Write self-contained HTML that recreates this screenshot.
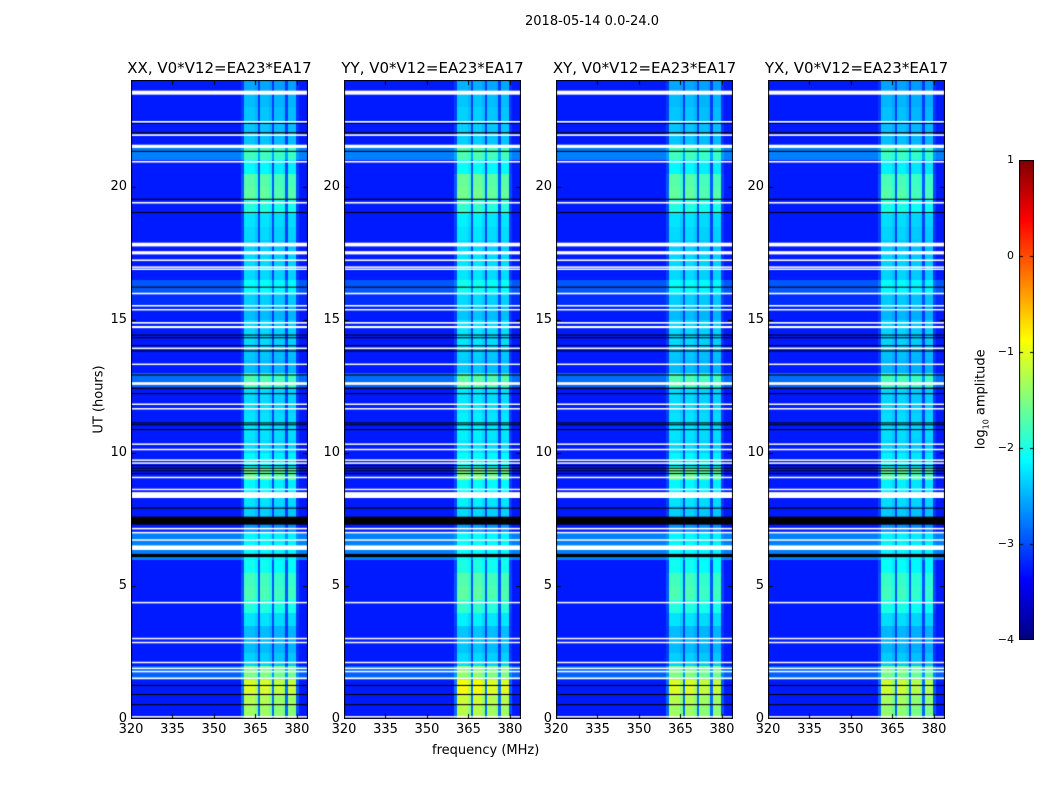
<!DOCTYPE html>
<html><head><meta charset="utf-8">
<style>
body{margin:0;background:#fff;}
#root{position:relative;width:1050px;height:800px;background:#fff;font-family:"DejaVu Sans","Liberation Sans",sans-serif;color:#000;overflow:hidden;}
.t{position:absolute;white-space:nowrap;}
canvas{position:absolute;}
</style></head>
<body>
<div id="root">
<div class="t" style="left:525px;top:14px;font-size:13px;">2018-05-14 0.0-24.0</div>
<div class="t" style="left:44px;top:392px;font-size:13px;width:110px;text-align:center;transform:rotate(-90deg);">UT (hours)</div>
<div class="t" style="left:432px;top:743px;font-size:13px;">frequency (MHz)</div>
<div class="t" style="left:922px;top:391px;font-size:13px;width:120px;text-align:center;transform:rotate(-90deg);">log<sub style="font-size:8px">10</sub> amplitude</div>
</div>
<script>
// ---- data ----
const panelTitles = ["XX, V0*V12=EA23*EA17","YY, V0*V12=EA23*EA17","XY, V0*V12=EA23*EA17","YX, V0*V12=EA23*EA17"];
const panelScale = [1.0, 1.06, 1.0, 0.96];
const freqStart = 320; // MHz, 1 MHz channels
const colShape = [0,0,0,0,0,0,0,0,0,0, 0,0,0,0,0,0,0,0,0,0, 0,0,0,0,0,0,0,0,0,0, 0,0,0,0,0,0,0,0,0,0,
  0.2,1,1,1,1,0.9,0.2,1,1,1,0.9,0.2,0.95,0.95,0.95,0.9,0.2,0.95,0.95,0.95,0.15,0,0,0];
const background = -3.25;
// band activity per half hour (0..24h)
const rowAct = [1.9,2.0,2.2,1.4,0.9,0.8,0.8,1.0,1.3,1.5,1.45,1.2,0.6,0.6,0.6,0.9,1.0,1.1,1.65,1.1,
  0.95,1.0,1.0,0.95,0.95,1.1,0.8,0.85,0.95,0.95,0.8,0.8,0.85,0.95,0.95,0.9,0.95,1.0,1.3,1.6,1.55,1.1,0.95,0.85,0.85,0.85,0.8,0.7];
const rowBgOff = [0,0,0,0.35,0,0,0,0,0,0,0,0,0.5,0.5,0,0,0,0,0,0,0,0,0,0,0,0.4,0,0,0,0,0,0.1,0.3,0,0,0,0,0,0,0,0,0,0.5,0,0,0,0,0];
const whiteFlags = [[23.45,0.15],[22.4,0.06],[21.9,0.06],[21.45,0.12],[20.9,0.06],[19.36,0.06],[17.75,0.14],[17.45,0.12],[17.2,0.06],[16.95,0.05],[16.87,0.05],
  [15.95,0.06],[15.5,0.05],[15.35,0.05],[14.85,0.06],[14.68,0.08],[13.9,0.05],[13.3,0.05],[12.55,0.1],
  [11.8,0.05],[11.63,0.05],[10.3,0.05],[10.1,0.05],[9.7,0.05],[9.6,0.04],[9.05,0.05],[8.6,0.05],[8.3,0.22],
  [7.12,0.06],[6.97,0.06],[6.7,0.05],[6.35,0.17],[4.35,0.05],[3.0,0.05],[2.85,0.05],[2.1,0.05],[1.88,0.05],[1.76,0.05],[1.5,0.06],[0.06,0.05]];
const blackFlags = [[22.35,0.04],[22.0,0.04],[21.3,0.04],[19.5,0.04],[19.0,0.04],[16.2,0.04],[14.4,0.04],[14.3,0.04],[14.0,0.04],[13.8,0.04],
  [12.9,0.04],[12.4,0.04],[12.2,0.04],[11.1,0.04],[11.03,0.04],[10.85,0.04],[9.5,0.04],[9.4,0.04],[9.3,0.04],[9.2,0.04],
  [7.9,0.04],[7.3,0.3],[6.08,0.12],[1.24,0.04],[0.9,0.04],[0.52,0.04]];
const xTicks = [320,335,350,365,380];
const yTicks = [0,5,10,15,20];
const cbTicks = [1,0,-1,-2,-3,-4];
// ---- layout ----
const root = document.getElementById('root');
const panelLeft = [131,344,556,768], pTop = 80, pW = 177, pH = 639;
const fMin = 320, fMax = 384, tMin = 0, tMax = 24;
const vMin = -4, vMax = 1;
function jet(v){
  let t = Math.max(0, Math.min(1, (v - vMin) / (vMax - vMin)));
  const c = x => Math.round(255 * Math.max(0, Math.min(1, x)));
  return 'rgb(' + c(1.5 - Math.abs(4*t - 3)) + ',' + c(1.5 - Math.abs(4*t - 2)) + ',' + c(1.5 - Math.abs(4*t - 1)) + ')';
}
function addText(txt, x, y, size, name, align){
  const d = document.createElement('div');
  d.className = 't';
  
  
  d.style.fontSize = size + 'px';
  d.textContent = txt;
  d.style.top = y + 'px';
  d.style.left = x + 'px';
  if (align === 'center') d.style.transform = 'translateX(-50%)';
  else if (align === 'right') d.style.transform = 'translateX(-100%)';
  root.appendChild(d);
}
panelLeft.forEach((L, p) => {
  const xs = f => (f - fMin) / (fMax - fMin) * pW;
  const ys = h => pH - (h - tMin) / (tMax - tMin) * pH;
  const cv = document.createElement('canvas');
  
  
  cv.width = pW; cv.height = pH;
  cv.style.left = L + 'px'; cv.style.top = pTop + 'px';
  root.appendChild(cv);
  const g = cv.getContext('2d');
  for (let r = 0; r < rowAct.length; r++){
    const h0 = r * 0.5, h1 = h0 + 0.5;
    for (let c = 0; c < colShape.length; c++){
      const f = freqStart + c;
      const v = background + rowBgOff[r] + colShape[c] * rowAct[r] * panelScale[p];
      g.fillStyle = jet(v);
      const x0 = xs(f), x1 = xs(f + 1), y0 = ys(h1), y1 = ys(h0);
      g.fillRect(Math.floor(x0), Math.floor(y0), Math.ceil(x1) - Math.floor(x0), Math.ceil(y1) - Math.floor(y0));
    }
  }
  g.fillStyle = '#000';
  blackFlags.forEach(([h, d]) => { const y0 = ys(h + d), y1 = ys(h); g.fillRect(0, y0, pW, Math.max(1, y1 - y0)); });
  g.fillStyle = '#fff';
  whiteFlags.forEach(([h, d]) => { const y0 = ys(h + d), y1 = ys(h); g.fillRect(0, y0, pW, Math.max(1.5, y1 - y0)); });
  g.strokeStyle = '#000'; g.lineWidth = 1;
  g.strokeRect(0.5, 0.5, pW - 1, pH - 1);
  xTicks.forEach(t => { const x = Math.round(xs(t)) + 0.5; g.beginPath(); g.moveTo(x, pH); g.lineTo(x, pH - 5); g.moveTo(x, 0); g.lineTo(x, 5); g.stroke(); });
  yTicks.forEach(t => { const y = Math.round(ys(t)) + 0.5; g.beginPath(); g.moveTo(0, y); g.lineTo(5, y); g.moveTo(pW, y); g.lineTo(pW - 5, y); g.stroke(); });
  addText(panelTitles[p], L + pW / 2, 59, 15, 'panel-title-' + (p + 1), 'center');
  xTicks.forEach(t => addText(String(t), L + xs(t), 722, 13, 'x-tick-label', 'center'));
  yTicks.forEach(t => addText(String(t), L - 4, pTop + ys(t) - 8, 13, 'y-tick-label', 'right'));
});
// colorbar
(function(){
  const L = 1019, T = 160, W = 15, H = 480;
  const cv = document.createElement('canvas');
  
  
  cv.width = W; cv.height = H; cv.style.left = L + 'px'; cv.style.top = T + 'px';
  root.appendChild(cv);
  const g = cv.getContext('2d');
  const ys = v => (vMax - v) / (vMax - vMin) * H;
  for (let y = 0; y < H; y++){ g.fillStyle = jet(vMax - (y + 0.5) / H * (vMax - vMin)); g.fillRect(0, y, W, 1); }
  g.strokeStyle = '#000'; g.strokeRect(0.5, 0.5, W - 1, H - 1);
  cbTicks.forEach(t => {
    const y = Math.round(ys(t)) + 0.5;
    g.beginPath(); g.moveTo(0, y); g.lineTo(4, y); g.moveTo(W, y); g.lineTo(W - 4, y); g.stroke();
    addText(t < 0 ? '\u2212' + (-t) : String(t), 1014, T + ys(t) - 7, 11, 'colorbar-tick-label', 'right');
  });
})();
</script>
</body></html>
